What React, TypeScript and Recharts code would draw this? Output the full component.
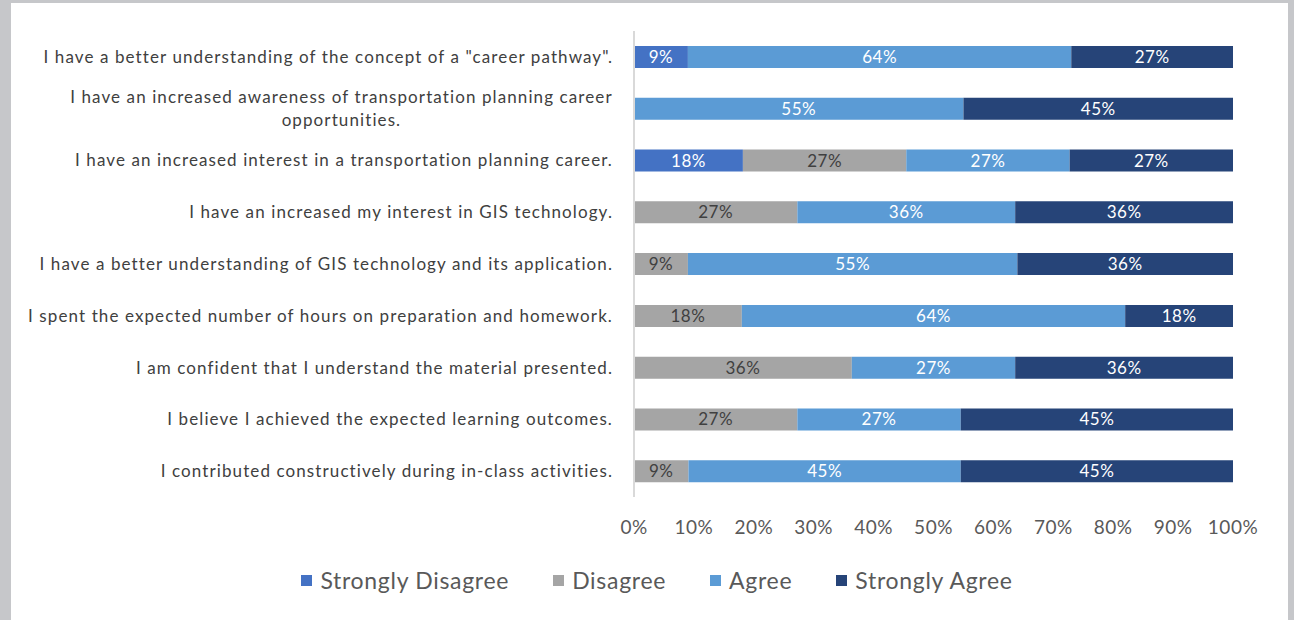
import { BarChart, Bar, XAxis, YAxis, LabelList } from "recharts";

const categories = [
  'I have a better understanding of the concept of a "career pathway".',
  "I have an increased awareness of transportation planning career opportunities.",
  "I have an increased interest in a transportation planning career.",
  "I have an increased my interest in GIS technology.",
  "I have a better understanding of GIS technology and its application.",
  "I spent the expected number of hours on preparation and homework.",
  "I am confident that I understand the material presented.",
  "I believe I achieved the expected learning outcomes.",
  "I contributed constructively during in-class activities.",
];

const stronglyDisagree = [9, 0, 18, 0, 0, 0, 0, 0, 0];
const disagree = [0, 0, 27, 27, 9, 18, 36, 27, 9];
const agree = [64, 55, 27, 36, 55, 64, 27, 27, 45];
const stronglyAgree = [27, 45, 27, 36, 36, 18, 36, 45, 45];

const xTicks = [0, 0.1, 0.2, 0.3, 0.4, 0.5, 0.6, 0.7, 0.8, 0.9, 1];

const series = [
  { key: "sd", name: "Strongly Disagree", color: "#4472C4", text: "#ffffff" },
  { key: "d", name: "Disagree", color: "#A5A5A5", text: "#404040" },
  { key: "a", name: "Agree", color: "#5B9BD5", text: "#ffffff" },
  { key: "sa", name: "Strongly Agree", color: "#264478", text: "#ffffff" },
];

const data = categories.map((name, i) => ({
  name,
  sd: stronglyDisagree[i],
  d: disagree[i],
  a: agree[i],
  sa: stronglyAgree[i],
}));

const FONT = "Lato, 'Open Sans', sans-serif";
const LABEL_SIZE = 17;
const LABEL_SPACING = 1.1;

let ctx: CanvasRenderingContext2D | null = null;
function textWidth(t: string, size: number) {
  if (!ctx) ctx = document.createElement("canvas").getContext("2d");
  if (!ctx) return t.length * size * 0.5;
  ctx.font = `${size}px Lato`;
  return ctx.measureText(t).width + t.length * LABEL_SPACING;
}

function wrap(text: string, maxChars: number) {
  const words = text.split(" ");
  const lines: string[] = [];
  let cur = "";
  for (const w of words) {
    if (cur && (cur + " " + w).length > maxChars) {
      lines.push(cur);
      cur = w;
    } else {
      cur = cur ? cur + " " + w : w;
    }
  }
  if (cur) lines.push(cur);
  return lines;
}

function CategoryTick(props: any) {
  const { x, y, payload } = props;
  const lines = wrap(payload.value, 70);
  const common = {
    fill: "#404040",
    fontSize: LABEL_SIZE,
    fontFamily: FONT,
    letterSpacing: LABEL_SPACING,
  };
  if (lines.length === 1) {
    return (
      <text x={x} y={y} dy={6} textAnchor="end" {...common}>
        {lines[0]}
      </text>
    );
  }
  const w = Math.max(...lines.map((l) => textWidth(l, LABEL_SIZE)));
  const cx = x - w / 2;
  return (
    <text x={cx} y={y} textAnchor="middle" {...common}>
      {lines.map((l, i) => (
        <tspan key={i} x={cx} dy={i === 0 ? -6 : 23}>
          {l}
        </tspan>
      ))}
    </text>
  );
}

function LegendBox() {
  return (
    <div
      style={{
        position: "absolute",
        left: 10,
        top: 566,
        width: 1294,
        display: "flex",
        justifyContent: "center",
        gap: 44,
        fontFamily: FONT,
        fontSize: 23,
        letterSpacing: 0.7,
        color: "#595959",
      }}
    >
      {series.map((s) => (
        <div key={s.key} style={{ display: "flex", alignItems: "center" }}>
          <span style={{ width: 11, height: 11, background: s.color, marginRight: 8, display: "inline-block" }} />
          <span>{s.name}</span>
        </div>
      ))}
    </div>
  );
}

export default function App() {
  return (
    <div style={{ position: "absolute", left: 0, top: 0, width: 1294, height: 620, background: "#c6c7ca" }}>
      <div style={{ position: "absolute", left: 11, top: 3, width: 1277, height: 617, background: "#ffffff" }} />
      <div style={{ position: "absolute", left: 0, top: 0 }}>
        <BarChart
          width={1294}
          height={620}
          data={data}
          layout="vertical"
          stackOffset="expand"
          barSize={22}
          margin={{ top: 31, right: 61, left: 0, bottom: 83 }}
        >
          <XAxis
            type="number"
            domain={[0, 1]}
            ticks={xTicks}
            tickFormatter={(v: number) => `${Math.round(v * 100)}%`}
            axisLine={false}
            tickLine={false}
            height={40}
            tick={{ fill: "#595959", fontSize: 19, fontFamily: FONT, letterSpacing: 0.5 }}
            tickMargin={18}
          />
          <YAxis
            type="category"
            dataKey="name"
            width={634}
            tickLine={false}
            axisLine={{ stroke: "#d9d9d9", strokeWidth: 2 }}
            tick={<CategoryTick />}
            tickMargin={15}
            interval={0}
          />
          {series.map((s) => (
            <Bar key={s.key} dataKey={s.key} name={s.name} stackId="s" fill={s.color} isAnimationActive={false}>
              <LabelList
                dataKey={s.key}
                position="center"
                fill={s.text}
                fontSize={17}
                fontFamily={FONT}
                letterSpacing={0.5}
                formatter={(v: any) => (v ? `${v}%` : "")}
              />
            </Bar>
          ))}
        </BarChart>
      </div>
      <LegendBox />
    </div>
  );
}
